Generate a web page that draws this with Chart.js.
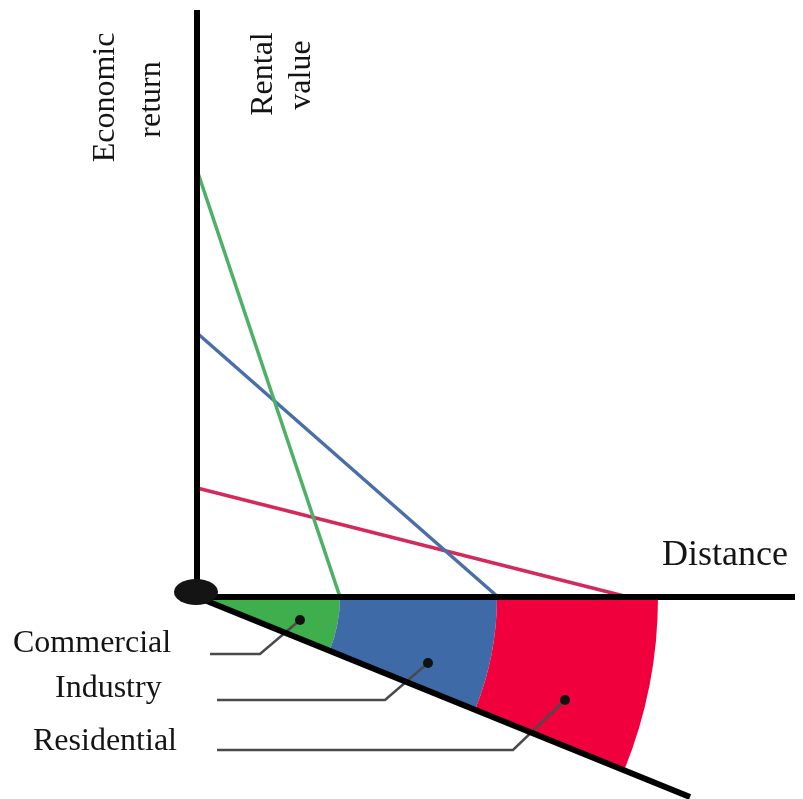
<!DOCTYPE html>
<html>
<head>
<meta charset="utf-8">
<script src="https://cdn.jsdelivr.net/npm/chart.js@4"></script>
<style>
  html, body { margin: 0; padding: 0; background: #fff; }
  #wrap { width: 803px; height: 799px; position: relative; }
</style>
</head>
<body>
<div id="wrap"><canvas id="bidRent"></canvas></div>
<script>
// land uses, nearest the centre first
const LAND_USES = ['Commercial', 'Industry', 'Residential'];
// rent each use can pay at the centre (distance 0)
const RENT_AT_CENTRE = [42.7, 26.4, 10.9];
// distance where that rent falls to 0
const RENT_ZERO_AT = [14.3, 30.1, 43.1];
// outer edge of each ring in the fan below the axis
const ZONE_EDGE = [14.3, 30.0, 46.1];

const AXIS_TOP = 58.7;    // end of the rent axis
const AXIS_END = 59.8;    // end of the distance axis
const FAN_END = { x: 49.3, y: -20.0 }; // lower edge of the fan

const lineColors = ['#4cb067', '#4a6ea6', '#d22a5a'];
const zoneColors = ['#3fae4c', '#3f6aa8', '#f0003c'];

// leader lines: label arm -> dot inside the ring (data units)
const leaders = [
  [{ x: 1.3, y: -5.7 }, { x: 6.3, y: -5.7 }, { x: 10.3, y: -2.3 }],
  [{ x: 2.0, y: -10.3 }, { x: 18.8, y: -10.3 }, { x: 23.1, y: -6.6 }],
  [{ x: 2.0, y: -15.3 }, { x: 31.6, y: -15.3 }, { x: 36.8, y: -10.3 }]
];
const labelPos = [
  { x: -18.4, y: -5.5 },
  { x: -14.2, y: -10.0 },
  { x: -16.4, y: -15.3 }
];

const SERIF = '"Liberation Serif", "Times New Roman", serif';

// 扇形色带
const fanPlugin = {
  id: 'fan',
  beforeDatasetsDraw(chart) {
    const { ctx, scales: { x, y } } = chart;
    const ox = x.getPixelForValue(0), oy = y.getPixelForValue(0);
    const end = Math.atan2(y.getPixelForValue(FAN_END.y) - oy, x.getPixelForValue(FAN_END.x) - ox);
    ctx.save();
    let inner = 0;
    ZONE_EDGE.forEach((edge, i) => {
      const r = x.getPixelForValue(edge) - ox;
      ctx.beginPath();
      ctx.arc(ox, oy, r, 0, end);
      ctx.arc(ox, oy, inner, end, 0, true);
      ctx.closePath();
      ctx.fillStyle = zoneColors[i];
      ctx.fill();
      inner = r;
    });
    ctx.restore();
  },
  afterDatasetsDraw(chart) {
    const { ctx, scales: { x, y } } = chart;
    const ox = x.getPixelForValue(0), oy = y.getPixelForValue(0);
    ctx.save();
    ctx.fillStyle = '#141414';
    ctx.beginPath();
    ctx.ellipse(ox - 1, oy - 5, 22, 13, 0, 0, Math.PI * 2);
    ctx.fill();
    ctx.restore();
  },
  afterDraw(chart) {
    const { ctx, scales: { x, y } } = chart;
    ctx.save();
    ctx.fillStyle = '#141414';
    ctx.textBaseline = 'alphabetic';

    // 竖排标题
    const vert = (text, px, py) => {
      ctx.save();
      ctx.translate(x.getPixelForValue(px), y.getPixelForValue(py));
      ctx.rotate(-Math.PI / 2);
      ctx.textAlign = 'center';
      ctx.fillText(text, 0, 0);
      ctx.restore();
    };
    ctx.font = '32px ' + SERIF;
    vert('Economic', -8.35, 49.95);
    vert('return', -3.7, 49.75);
    vert('Rental', 7.5, 52.3);
    vert('value', 11.3, 52.2);

    ctx.textAlign = 'left';
    LAND_USES.forEach((name, i) => {
      ctx.fillText(name, x.getPixelForValue(labelPos[i].x), y.getPixelForValue(labelPos[i].y));
    });

    ctx.font = '36px ' + SERIF;
    ctx.fillText('Distance', x.getPixelForValue(46.5), y.getPixelForValue(3.2));
    ctx.restore();
  }
};

const axisLine = pts => ({
  data: pts, showLine: true, borderColor: '#000', borderWidth: 6,
  pointRadius: 0, borderCapStyle: 'butt'
});

const datasets = [
  axisLine([{ x: 0, y: 0 }, { x: 0, y: AXIS_TOP }]),
  axisLine([{ x: 0, y: 0 }, { x: AXIS_END, y: 0 }]),
  axisLine([{ x: 0, y: 0 }, FAN_END]),
  ...leaders.map(pts => ({
    data: pts, showLine: true, borderColor: '#4a4a4a', borderWidth: 2.5,
    pointRadius: ctx => ctx.dataIndex === pts.length - 1 ? 5 : 0,
    pointBackgroundColor: '#111', pointBorderWidth: 0
  })),
  ...LAND_USES.map((name, i) => ({
    label: name,
    data: [{ x: 0, y: RENT_AT_CENTRE[i] }, { x: RENT_ZERO_AT[i], y: 0 }],
    showLine: true, borderColor: lineColors[i], borderWidth: 3.5, pointRadius: 0
  }))
];

new Chart(document.getElementById('bidRent'), {
  type: 'scatter',
  data: { datasets },
  options: {
    responsive: true,
    maintainAspectRatio: false,
    animation: false,
    layout: { padding: 0, autoPadding: false },
    plugins: { legend: { display: false }, tooltip: { enabled: false } },
    scales: {
      x: { type: 'linear', min: -19.7, max: 60.6, display: false },
      y: { type: 'linear', min: -20.2, max: 59.7, display: false }
    }
  },
  plugins: [fanPlugin]
});
</script>
</body>
</html>
